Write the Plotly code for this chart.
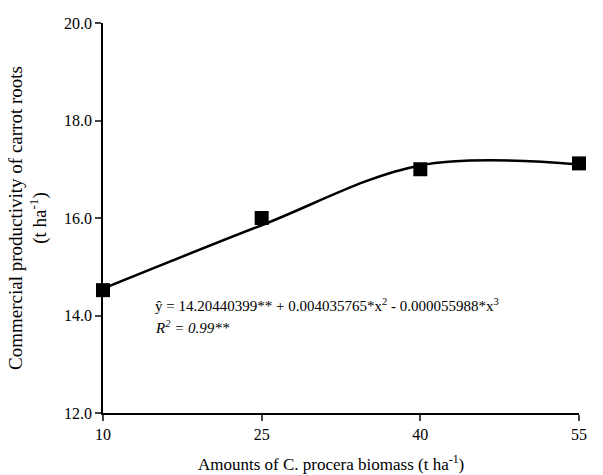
import numpy as np
import plotly.graph_objects as go

doses = [10, 25, 40, 55]
productivity = [14.52, 16.0, 17.0, 17.12]
# regression coefficients shown on the chart: b0, b2, b3
b0, b2, b3 = 14.20440399, 0.004035765, -0.000055988
x_ticks = [10, 25, 40, 55]
y_ticks = [12, 14, 16, 18, 20]

d = np.array(doses, dtype=float)
fitted = b0 + b2 * d**2 + b3 * d**3

font = "Liberation Serif, Times New Roman, serif"
fig = go.Figure()
fig.add_trace(go.Scatter(x=doses, y=fitted, mode="lines", line=dict(color="black", width=2.5, shape="spline", smoothing=1),
                         showlegend=False, hoverinfo="skip"))
fig.add_trace(go.Scatter(x=doses, y=productivity, mode="markers",
                         marker=dict(symbol="square", size=14, color="black"), showlegend=False, cliponaxis=False))

fig.add_annotation(xref="paper", yref="paper", x=0.105, y=0.277, xanchor="left", yanchor="middle",
                   text="ŷ = 14.20440399** + 0.004035765*x<sup>2</sup> - 0.000055988*x<sup>3</sup>",
                   showarrow=False, font=dict(family=font, size=15, color="black"))
fig.add_annotation(xref="paper", yref="paper", x=0.105, y=0.220, xanchor="left", yanchor="middle",
                   text="<i>R<sup>2</sup> = 0.99**</i>",
                   showarrow=False, font=dict(family=font, size=15, color="black"))
fig.add_annotation(xref="paper", yref="paper", x=0.479, y=-0.128, xanchor="center", yanchor="middle",
                   text="Amounts of C. procera biomass (t ha<sup>-1</sup>)",
                   showarrow=False, font=dict(family=font, size=17, color="black"))

fig.update_layout(
    width=603, height=475,
    margin=dict(l=103, r=24, t=23, b=62),
    plot_bgcolor="white", paper_bgcolor="white",
    font=dict(family=font, size=16, color="black"),
    xaxis=dict(range=[10, 55], tickvals=x_ticks, ticks="outside", ticklen=6, tickwidth=1.5,
               showline=True, linecolor="black", linewidth=1.5, showgrid=False, zeroline=False,
               tickfont=dict(family=font, size=16, color="black")),
    yaxis=dict(range=[12, 20], tickvals=y_ticks, tickformat=".1f", ticks="outside", ticklen=6, tickwidth=1.5,
               showline=True, linecolor="black", linewidth=1.5, showgrid=False, zeroline=False,
               tickfont=dict(family=font, size=16, color="black"),
               title=dict(text="Commercial productivity of carrot roots<br>(t ha<sup>-1</sup>)",
                          font=dict(family=font, size=19, color="black"), standoff=12)),
)
fig.write_html("out.html")
